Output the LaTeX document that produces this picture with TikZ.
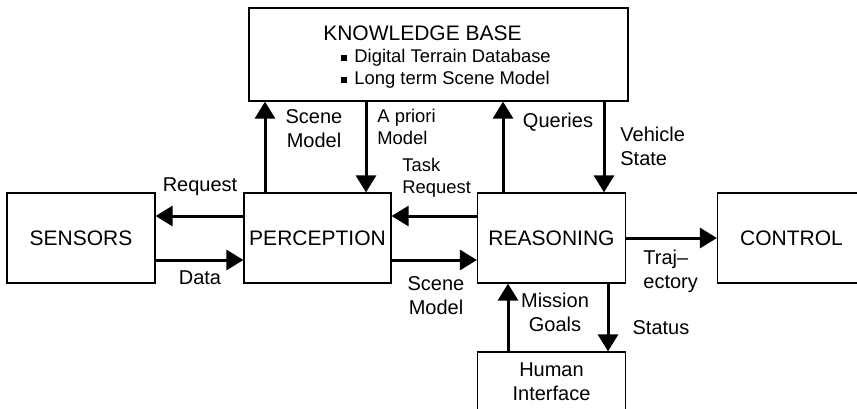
\documentclass[tikz,border=0pt]{standalone}
\usepackage{fontspec}
\setmainfont{Liberation Sans}
\usetikzlibrary{arrows.meta,positioning}
\definecolor{lineBlack}{RGB}{0,0,0}
\newcommand{\kbBullet}{\rule[1pt]{3pt}{3pt}\hspace{3.5pt}}

\begin{document}
\begin{tikzpicture}[x=0.5pt,y=-0.5pt,
  blockbox/.style={draw=lineBlack,line width=.6pt,minimum width=74pt,minimum height=45pt,inner sep=0pt,font=\fontsize{10.5}{12}\selectfont},
  flow/.style={draw=lineBlack,line width=1.5pt,-{Triangle[length=8.5pt,width=10pt]}},
  lbl/.style={inner sep=0pt,font=\fontsize{10}{12}\selectfont,align=center},
  smalllbl/.style={inner sep=0pt,font=\fontsize{9.2}{10.8}\selectfont,align=left}]
\useasboundingbox (0,0) rectangle (857,408);

% blocks
\node[blockbox,minimum width=189.5pt,minimum height=46.5pt] (kb) at (438.5,54.5) {};
\node[inner sep=0pt,font=\fontsize{10.5}{12}\selectfont] (kbTitle) at (422.5,33) {KNOWLEDGE BASE};
\node[smalllbl,anchor=west] (kbList) at (341,69) {\kbBullet Digital Terrain Database\\ \kbBullet Long term Scene Model};
\node[blockbox] (sens) at (81,238) {SENSORS};
\node[blockbox,minimum width=73.5pt] (perc) at (317.5,238) {PERCEPTION};
\node[blockbox] (reas) at (551.5,238) {REASONING};
\node[blockbox] (ctrl) at (791.5,238) {CONTROL};
\node[blockbox,minimum height=30pt,font=\fontsize{10}{12}\selectfont,align=center] (hum) at (551.5,382) {Human\\Interface};

% arrows
\draw[flow] (265,0 |- perc.north) -- (265,0 |- kb.south);
\draw[flow] (366,0 |- kb.south) -- (366,0 |- perc.north);
\draw[flow] (503,0 |- reas.north) -- (503,0 |- kb.south);
\draw[flow] (604,0 |- kb.south) -- (604,0 |- reas.north);
\draw[flow] (0,216 -| perc.west) -- (0,216 -| sens.east);
\draw[flow] (0,260 -| sens.east) -- (0,260 -| perc.west);
\draw[flow] (0,216 -| reas.west) -- (0,216 -| perc.east);
\draw[flow] (0,260 -| perc.east) -- (0,260 -| reas.west);
\draw[flow] (reas) -- (ctrl);
\draw[flow] (508,0 |- hum.north) -- (508,0 |- reas.south);
\draw[flow] (608,0 |- reas.south) -- (608,0 |- hum.north);

% labels
\node[lbl] (lblSceneUp) at (314,129) {Scene\\Model};
\node[smalllbl,anchor=west] (lblPriori) at (377,127) {A priori\\Model};
\node[smalllbl,anchor=west] (lblTask) at (402,178) {Task\\Request};
\node[lbl] (lblRequest) at (200,187) {Request};
\node[lbl] (lblData) at (200,278) {Data};
\node[lbl] (lblSceneDown) at (436,296) {Scene\\Model};
\node[lbl] (lblQueries) at (558,122) {Queries};
\node[lbl,align=left,anchor=west] (lblVehicle) at (620,146) {Vehicle\\State};
\node[lbl,align=left,anchor=west] (lblTraj) at (643,271) {Traj–\\ectory};
\node[lbl] (lblMission) at (555,312) {Mission\\Goals};
\node[lbl] (lblStatus) at (661,328) {Status};
\end{tikzpicture}
\end{document}
